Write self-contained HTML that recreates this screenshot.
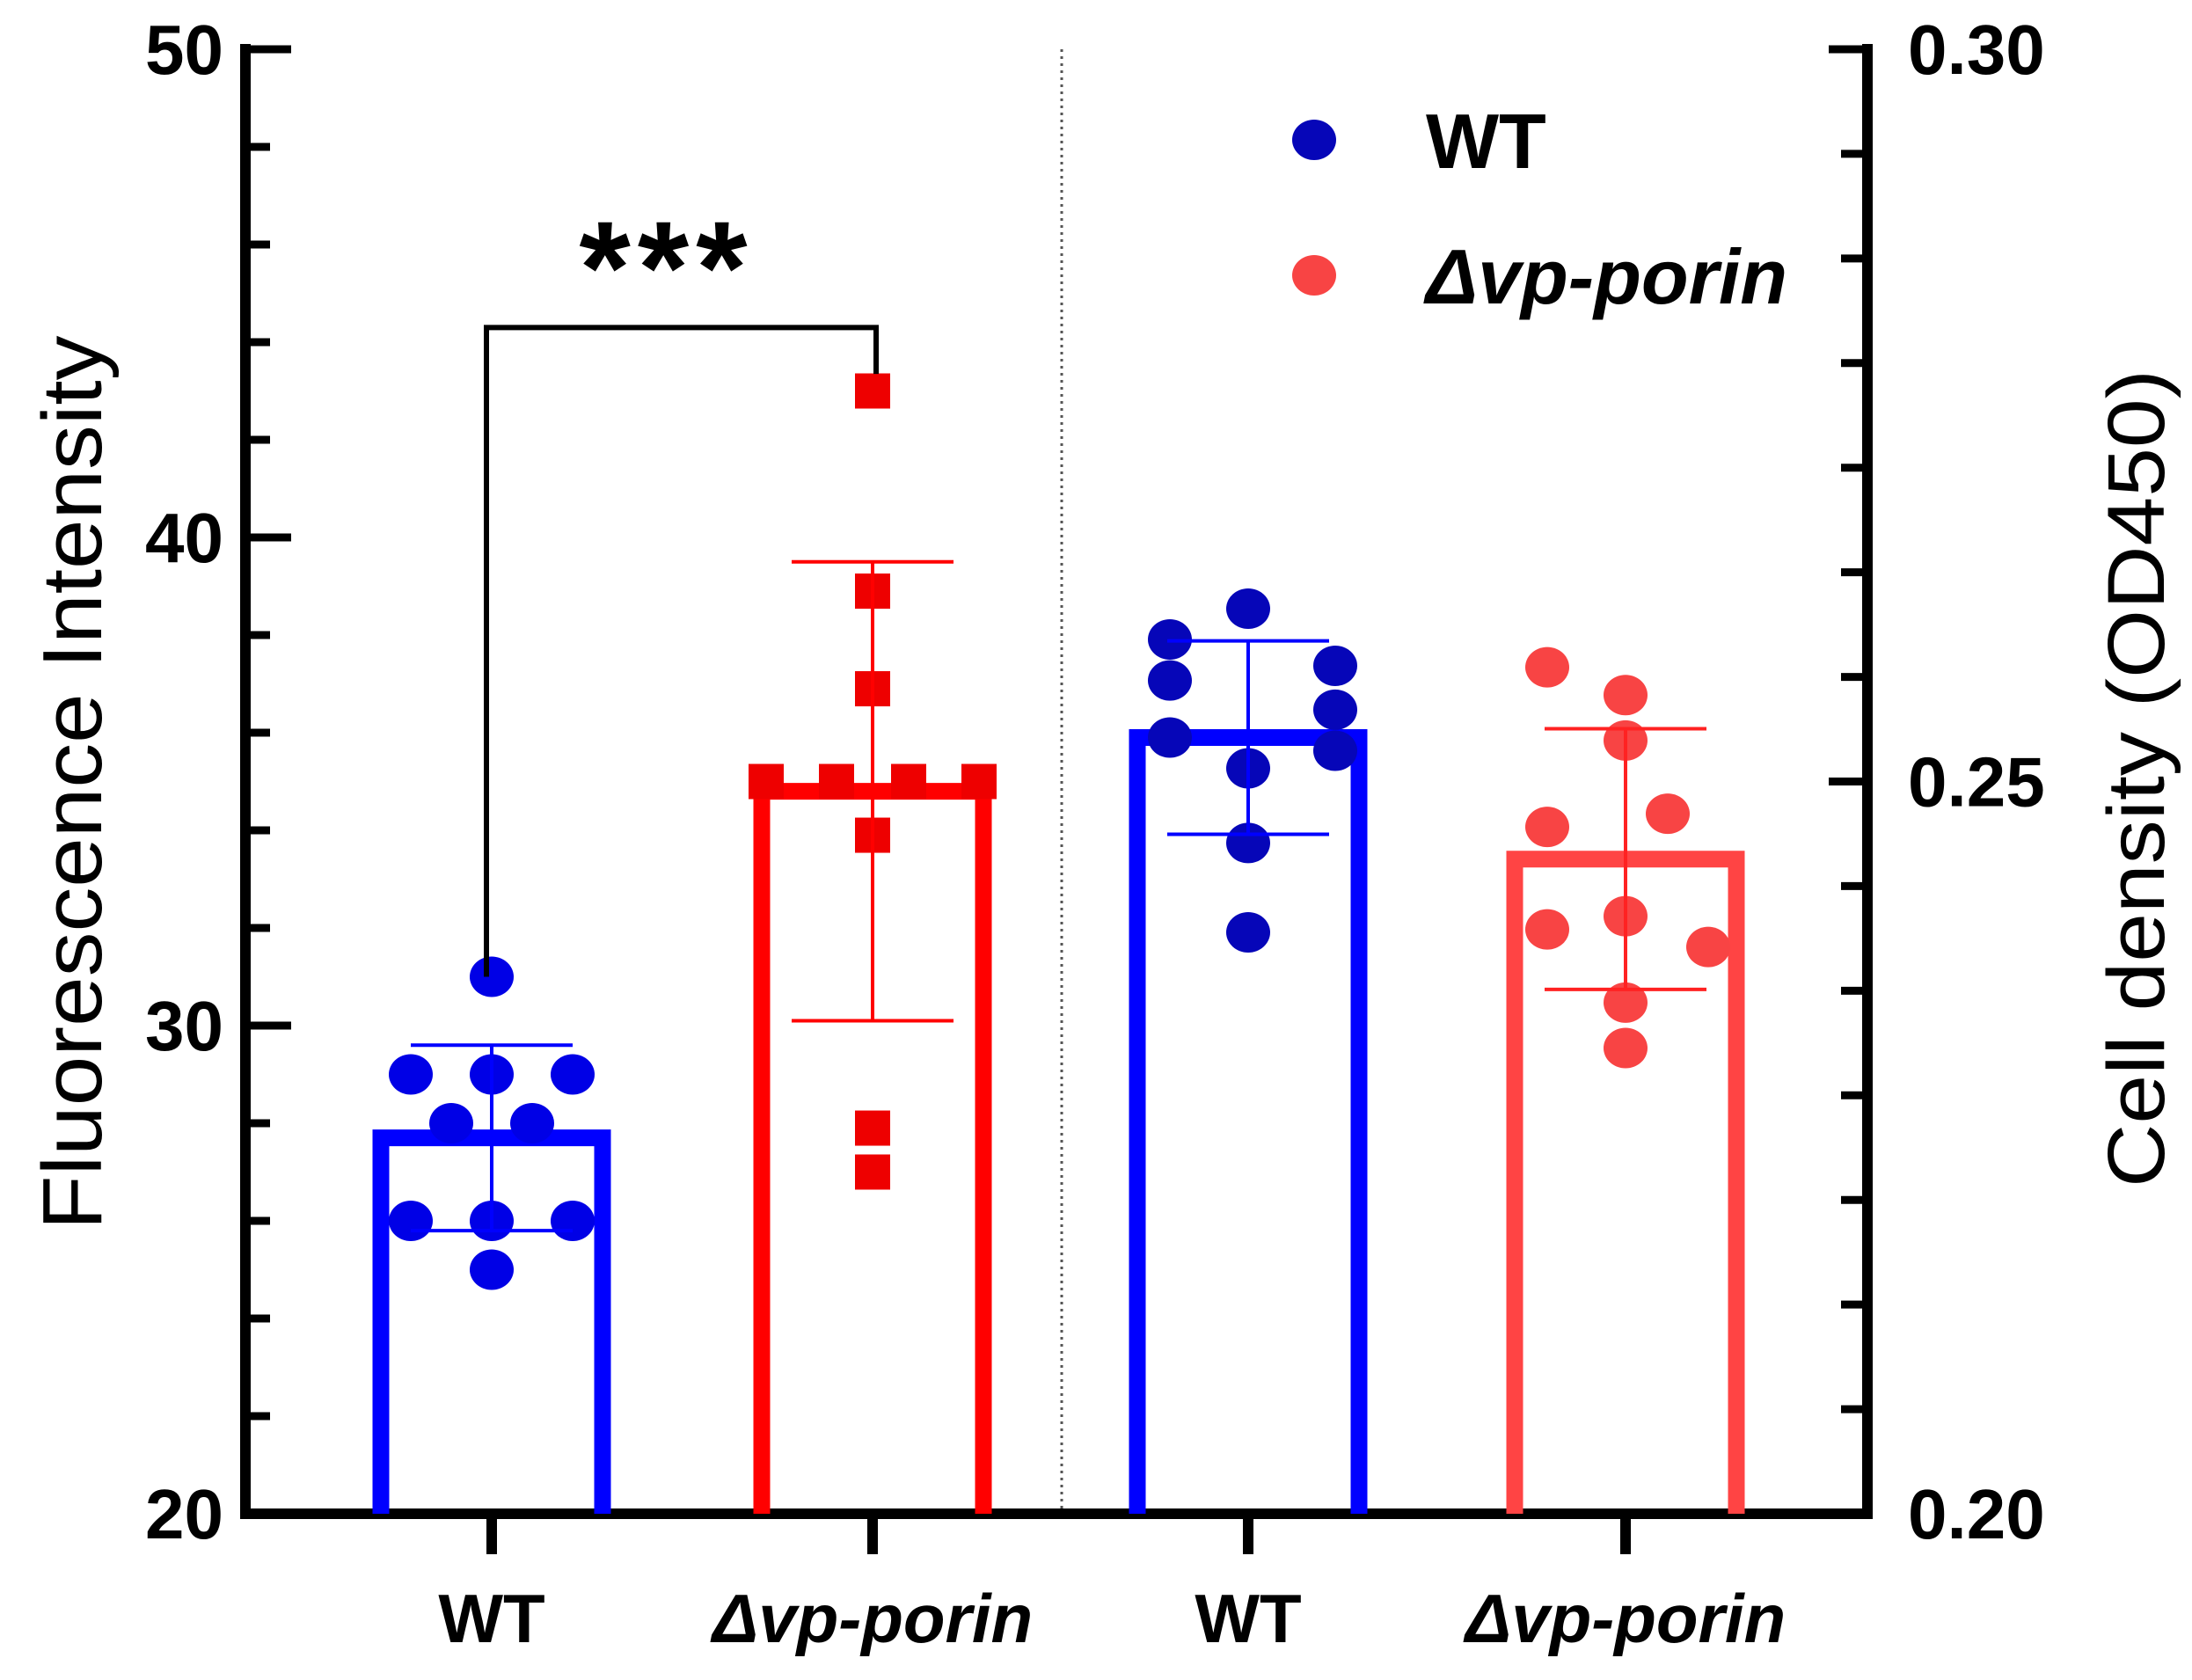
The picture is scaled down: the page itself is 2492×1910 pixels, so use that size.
<!DOCTYPE html>
<html><head><meta charset="utf-8"><style>
html,body{margin:0;padding:0;background:#fff;}
svg{display:block;font-family:"Liberation Sans",Arial,sans-serif;}
</style></head><body>
<svg id="chart" width="2492" height="1910" viewBox="0 0 2492 1910" xmlns="http://www.w3.org/2000/svg">
<g id="axes"></g>
<g id="marks"></g>
</svg>
<script>
const categories = ["WT", "Δvp-porin", "WT", "Δvp-porin"];
const barMeans = [27.7, 34.8, 0.2530, 0.2447];
const barSD = [1.9, 4.7, 0.0066, 0.0089];
const pointsWT1 = [31.0, 29.0, 29.0, 29.0, 28.0, 28.0, 26.0, 26.0, 26.0, 25.0];
const pointsKO1 = [43.0, 38.9, 36.9, 35.0, 35.0, 35.0, 35.0, 33.9, 27.9, 27.0];
const pointsWT2 = [0.2597, 0.2618, 0.2569, 0.2579, 0.2549, 0.2530, 0.2521, 0.2509, 0.2458, 0.2397];
const pointsKO2 = [0.2578, 0.2559, 0.2528, 0.2469, 0.2478, 0.2399, 0.2408, 0.2387, 0.2349, 0.2318];
const leftTicks = [20, 30, 40, 50];
const rightTicks = [0.20, 0.25, 0.30];
const rightTickLabels = ["0.20", "0.25", "0.30"];
const legendLabels = ["WT", "Δvp-porin"];

const NS = "http://www.w3.org/2000/svg";
const X0 = 279, X1 = 2123, Y0 = 1721, Y1 = 56;
const catX = [559, 992, 1419, 1848];
function yL(v){ return Y0 - (v - 20) / 30 * (Y0 - Y1); }
function yR(v){ return Y0 - (v - 0.2) / 0.1 * (Y0 - Y1); }
function mk(tag, attrs, parent){ const e = document.createElementNS(NS, tag); for (const k in attrs) e.setAttribute(k, attrs[k]); parent.appendChild(e); return e; }
const axes = document.getElementById('axes');
const marks = document.getElementById('marks');

let d = mk('line', {x1:1207, y1:Y1, x2:1207, y2:Y0-4, stroke:'#555', 'stroke-width':3, 'stroke-dasharray':'3,5'}, axes);



const barStroke = ['#0000ff', '#ff0000', '#0000ff', '#ff4444'];
const ptColor = ['#0000e6', '#ee0000', '#0606b8', '#f84444'];
const yFn = [yL, yL, yR, yR];
for (let i = 0; i < 4; i++){
  const c = catX[i], top = yFn[i](barMeans[i]);
  const b = mk('path', {d:`M${c-126},${Y0} V${top} H${c+126} V${Y0}`, fill:'none', stroke:barStroke[i], 'stroke-width':19}, marks);
  
  
}
const offsWT1 = [0, -92, 0, 92, -46, 46, -92, 0, 92, 0];
const offsKO1 = [0, 0, 0, -121, -41, 41, 121, 0, 0, 0];
const offsWT2 = [-89, 0, -89, 99, 99, -89, 99, 0, 0, 0];
const offsKO2 = [-89, 0, 0, -89, 48, -89, 0, 94, 0, 0];
const sets = [pointsWT1, pointsKO1, pointsWT2, pointsKO2];
const offs = [offsWT1, offsKO1, offsWT2, offsKO2];
for (let i = 0; i < 4; i++){
  sets[i].forEach((v, j) => {
    const x = catX[i] + offs[i][j], y = yFn[i](v);
    let p;
    if (i === 1) p = mk('rect', {x:x-20, y:y-20, width:40, height:40, fill:ptColor[i]}, marks);
    else p = mk('ellipse', {cx:x, cy:y, rx:25, ry:23, fill:ptColor[i]}, marks);
    
    
  });
}
const errColor = ['#0000ff', '#ff0000', '#0000ff', '#ff2222'];
for (let i = 0; i < 4; i++){
  const c = catX[i], hi = yFn[i](barMeans[i] + barSD[i]), lo = yFn[i](barMeans[i] - barSD[i]);
  const g = mk('g', {stroke:errColor[i], 'stroke-width':4}, marks);
  
  
  mk('line', {x1:c, y1:hi, x2:c, y2:lo}, g);
  mk('line', {x1:c-92, y1:hi, x2:c+92, y2:hi}, g);
  mk('line', {x1:c-92, y1:lo, x2:c+92, y2:lo}, g);
}

let ax = mk('path', {d:`M${X0},${Y1} V${Y0} H${X1} V${Y1}`, fill:'none', stroke:'#000', 'stroke-width':12, 'stroke-linecap':'square'}, axes);


for (let v = 20; v <= 50; v += 2){
  const y = yL(v), major = (v % 10 === 0);
  mk('line', {x1:X0, y1:y, x2:X0 + (major ? 52 : 28), y2:y, stroke:'#000', 'stroke-width':9}, axes);
}
leftTicks.forEach(v => {
  const t = mk('text', {x:254, y:yL(v)+28, 'text-anchor':'end', 'font-size':80, 'font-weight':'bold'}, axes);
  t.textContent = v;
  
  
});
for (let k = 0; k <= 14; k++){
  const y = Y1 + k * (Y0 - Y1) / 14, major = (k % 7 === 0);
  mk('line', {x1:X1, y1:y, x2:X1 - (major ? 44 : 30), y2:y, stroke:'#000', 'stroke-width':9}, axes);
}
rightTicks.forEach((v, i) => {
  const t = mk('text', {x:2169, y:yR(v)+28, 'font-size':80, 'font-weight':'bold'}, axes);
  t.textContent = rightTickLabels[i];
  
  
});
categories.forEach((c, i) => {
  mk('line', {x1:catX[i], y1:Y0, x2:catX[i], y2:1767, stroke:'#000', 'stroke-width':12}, axes);
  const t = mk('text', {x:catX[i], y:1867, 'text-anchor':'middle', 'font-size':78, 'font-weight':'bold', 'font-style': i % 2 ? 'italic' : 'normal'}, axes);
  t.textContent = c;
  
  
});
let lt = mk('text', {x:0, y:0, transform:'translate(115,890) rotate(-90)', 'text-anchor':'middle', 'font-size':96, textLength:1017, lengthAdjust:'spacingAndGlyphs'}, axes);
lt.textContent = 'Fluorescence Intensity';


let rt = mk('text', {x:0, y:0, transform:'translate(2460,885) rotate(-90)', 'text-anchor':'middle', 'font-size':92, textLength:930, lengthAdjust:'spacingAndGlyphs'}, axes);
rt.textContent = 'Cell density (OD450)';



let br = mk('path', {d:`M${catX[0]-6},${yL(31)} V${yL(44.3)} H${catX[1]+4} V${yL(43.35)}`, fill:'none', stroke:'#000', 'stroke-width':6}, marks);


let st = mk('text', {x:758, y:356, 'text-anchor':'middle', 'font-size':150, 'font-weight':'bold', 'letter-spacing':8}, marks);
st.textContent = '***';



const legColors = ['#0606b8', '#f84444'];
legendLabels.forEach((l, i) => {
  const y = 159 + i * 154;
  const c = mk('ellipse', {cx:1494, cy:y, rx:25, ry:23, fill:legColors[i]}, axes);
  
  
  const t = mk('text', {x:1621, y:y+32, 'font-size':88, 'font-weight':'bold', 'font-style': i ? 'italic' : 'normal'}, axes);
  t.textContent = l;
  
  
});
</script>
</body></html>
